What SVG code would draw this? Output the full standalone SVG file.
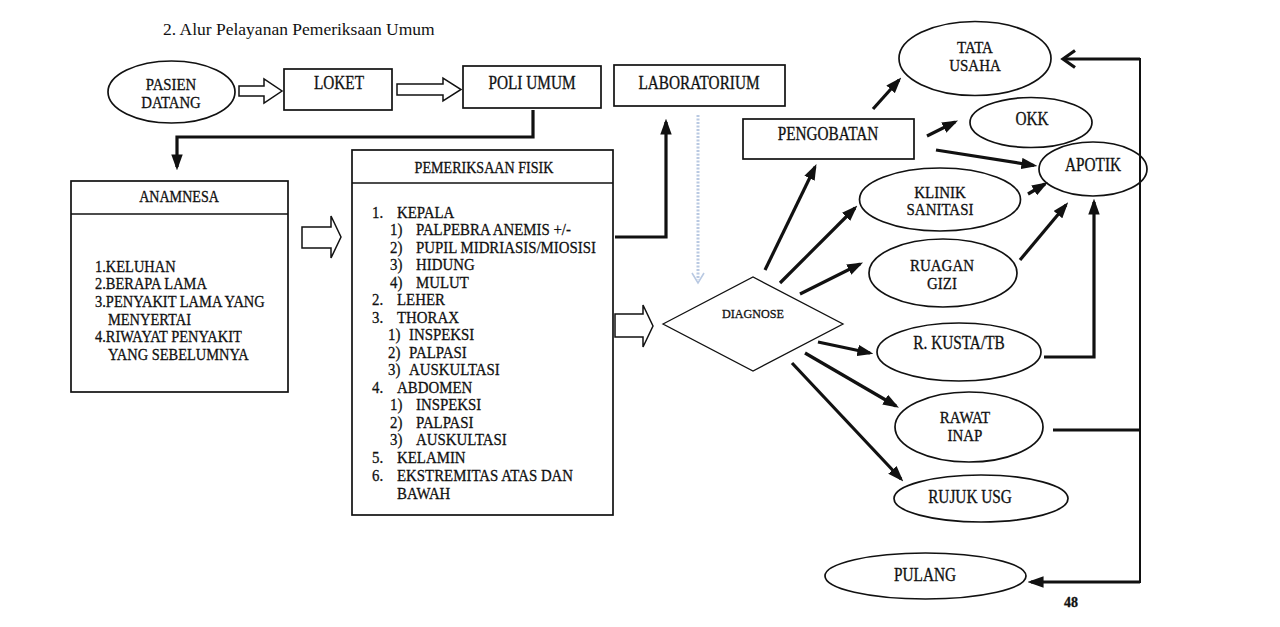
<svg xmlns="http://www.w3.org/2000/svg" width="1280" height="627" viewBox="0 0 1280 627">
<style>
  .bg{fill:#ffffff}
  .shape{fill:none;stroke:#111;stroke-width:1.7}
  .thin{fill:none;stroke:#111;stroke-width:1.3}
  .hollow{fill:#fff;stroke:#111;stroke-width:1.5;stroke-linejoin:miter}
  .conn{fill:none;stroke:#111;stroke-width:3.2}
  .vline{fill:none;stroke:#111;stroke-width:2}
  text{font-family:"Liberation Serif","Times New Roman",serif;fill:#111;stroke:#111;stroke-width:0.3}
  .lbl{font-size:18px;text-anchor:middle}
  .lbl2{font-size:17px;text-anchor:middle}
  .hdr{font-size:16px;text-anchor:middle}
  .list{font-size:17.5px}
  .alist{font-size:17px}
  .title{font-size:17.5px;stroke-width:0}
  .small{font-size:13.5px;text-anchor:middle}
</style>
<defs>
  <marker id="ah" markerUnits="userSpaceOnUse" markerWidth="16" markerHeight="12" viewBox="0 0 14 10" refX="11" refY="5" orient="auto">
    <path d="M0,0 L14,5 L0,10 Z" fill="#111"/>
  </marker>
</defs>
<rect class="bg" x="0" y="0" width="1280" height="627"/>

<text class="title" x="163" y="35">2.  Alur Pelayanan Pemeriksaan Umum</text>

<g id="pasien">
  <ellipse class="shape" cx="171.5" cy="92" rx="63.5" ry="31"/>
  <text class="lbl2" transform="translate(171,90) scale(0.87,1)"><tspan x="0">PASIEN</tspan><tspan x="0" dy="18">DATANG</tspan></text>
</g>
<g id="loket">
  <rect class="shape" x="284" y="69" width="108" height="41"/>
  <text class="lbl" transform="translate(339,89) scale(0.85,1)">LOKET</text>
</g>
<g id="poli">
  <rect class="shape" x="463" y="66" width="138" height="42"/>
  <text class="lbl" transform="translate(532,89) scale(0.85,1)">POLI UMUM</text>
</g>
<g id="lab">
  <rect class="shape" x="614" y="65" width="171" height="41"/>
  <text class="lbl" transform="translate(699,89) scale(0.85,1)">LABORATORIUM</text>
</g>

<g id="anamnesa">
  <rect class="shape" x="71" y="181" width="217" height="211"/>
  <line class="shape" x1="71" y1="214" x2="288" y2="214" stroke-width="2.2"/>
  <text class="hdr" transform="translate(179,202) scale(0.88,1)">ANAMNESA</text>
  <g transform="scale(0.85,1)">
    <text class="alist" x="111.8" y="272">1.KELUHAN</text>
    <text class="alist" x="111.8" y="289.5">2.BERAPA LAMA</text>
    <text class="alist" x="111.8" y="307">3.PENYAKIT LAMA YANG</text>
    <text class="alist" x="127" y="325">MENYERTAI</text>
    <text class="alist" x="111.8" y="342">4.RIWAYAT PENYAKIT</text>
    <text class="alist" x="127" y="360">YANG SEBELUMNYA</text>
  </g>
</g>

<g id="pemeriksaan">
  <rect class="shape" x="352" y="150" width="261" height="365"/>
  <line class="shape" x1="352" y1="183" x2="613" y2="183" stroke-width="2"/>
  <text class="hdr" transform="translate(484,173) scale(0.88,1)">PEMERIKSAAN FISIK</text>
  <g transform="scale(0.85,1)">
    <text class="list" x="437.6" y="218">1.<tspan x="467.1">KEPALA</tspan></text>
    <text class="list" x="458.8" y="235.5">1)<tspan x="489.4">PALPEBRA ANEMIS +/-</tspan></text>
    <text class="list" x="458.8" y="253">2)<tspan x="489.4">PUPIL MIDRIASIS/MIOSISI</tspan></text>
    <text class="list" x="458.8" y="270.5">3)<tspan x="489.4">HIDUNG</tspan></text>
    <text class="list" x="458.8" y="288">4)<tspan x="489.4">MULUT</tspan></text>
    <text class="list" x="437.6" y="305.5">2.<tspan x="467.1">LEHER</tspan></text>
    <text class="list" x="437.6" y="323">3.<tspan x="467.1">THORAX</tspan></text>
    <text class="list" x="456.5" y="340.5">1)<tspan x="481.2">INSPEKSI</tspan></text>
    <text class="list" x="456.5" y="358">2)<tspan x="481.2">PALPASI</tspan></text>
    <text class="list" x="456.5" y="375.5">3)<tspan x="481.2">AUSKULTASI</tspan></text>
    <text class="list" x="437.6" y="393">4.<tspan x="467.1">ABDOMEN</tspan></text>
    <text class="list" x="458.8" y="410.5">1)<tspan x="489.4">INSPEKSI</tspan></text>
    <text class="list" x="458.8" y="428">2)<tspan x="489.4">PALPASI</tspan></text>
    <text class="list" x="458.8" y="445">3)<tspan x="489.4">AUSKULTASI</tspan></text>
    <text class="list" x="437.6" y="463">5.<tspan x="467.1">KELAMIN</tspan></text>
    <text class="list" x="437.6" y="481">6.<tspan x="467.1">EKSTREMITAS ATAS DAN</tspan></text>
    <text class="list" x="467.1" y="499">BAWAH</text>
  </g>
</g>

<g id="diagnose">
  <polygon class="thin" points="663,324 753,277 843,324 753,371"/>
  <text class="small" transform="translate(753,318) scale(0.9,1)">DIAGNOSE</text>
</g>
<g id="pengobatan">
  <rect class="shape" x="743" y="119" width="171" height="40"/>
  <text class="lbl" transform="translate(828,140) scale(0.85,1)">PENGOBATAN</text>
</g>
<g id="tatausaha">
  <ellipse class="shape" cx="975" cy="58.5" rx="76" ry="37"/>
  <text class="lbl2" transform="translate(975,53) scale(0.88,1)"><tspan x="0">TATA</tspan><tspan x="0" dy="18">USAHA</tspan></text>
</g>
<g id="okk">
  <ellipse class="shape" cx="1031" cy="122.5" rx="61" ry="25"/>
  <text class="lbl" transform="translate(1032,125) scale(0.85,1)">OKK</text>
</g>
<g id="apotik">
  <ellipse class="shape" cx="1093" cy="169" rx="54" ry="27"/>
  <text class="lbl" transform="translate(1093,171) scale(0.85,1)">APOTIK</text>
</g>
<g id="klinik">
  <ellipse class="shape" cx="940" cy="199.5" rx="80.5" ry="31.5"/>
  <text class="lbl2" transform="translate(940,197.5) scale(0.88,1)"><tspan x="0">KLINIK</tspan><tspan x="0" dy="18">SANITASI</tspan></text>
</g>
<g id="ruagan">
  <ellipse class="shape" cx="943" cy="273" rx="74" ry="34"/>
  <text class="lbl2" transform="translate(942,271) scale(0.88,1)"><tspan x="0">RUAGAN</tspan><tspan x="0" dy="18">GIZI</tspan></text>
</g>
<g id="kusta">
  <ellipse class="shape" cx="959" cy="352" rx="82" ry="29"/>
  <text class="lbl" transform="translate(959,349) scale(0.85,1)">R. KUSTA/TB</text>
</g>
<g id="rawatinap">
  <ellipse class="shape" cx="969" cy="427" rx="74" ry="35"/>
  <text class="lbl2" transform="translate(965,423) scale(0.88,1)"><tspan x="0">RAWAT</tspan><tspan x="0" dy="18">INAP</tspan></text>
</g>
<g id="rujuk">
  <ellipse class="shape" cx="981" cy="498.5" rx="87" ry="23.5"/>
  <text class="lbl" transform="translate(970,503) scale(0.85,1)">RUJUK USG</text>
</g>
<g id="pulang">
  <ellipse class="shape" cx="925.5" cy="576" rx="100.5" ry="23"/>
  <text class="lbl" transform="translate(925,581) scale(0.85,1)">PULANG</text>
</g>

<text x="1071" y="607" font-size="14" text-anchor="middle" font-weight="bold">48</text>

<g id="connectors">
  <path class="hollow" d="M239,86 H264 V79 L282,91 L264,103 V96 H239 Z"/>
  <path class="hollow" d="M397,84 H443 V78 L461,89.5 L443,101 V95 H397 Z"/>
  <path class="hollow" d="M302,227 H331 V216 L341,237 L331,258 V248 H302 Z"/>
  <path class="hollow" d="M615,314 H643 V305 L653,326 L643,347 V337 H615 Z"/>

  <path class="conn" d="M533,110 V137 H177 V167" marker-end="url(#ah)"/>
  <path class="conn" d="M615,237 H666 V122" marker-end="url(#ah)"/>

  <path d="M698,115 V280" fill="none" stroke="#b9c9e2" stroke-width="3" stroke-dasharray="2 1.5"/>
  <path d="M692,273 L698,283 L704,273" fill="none" stroke="#b9c9e2" stroke-width="1.6"/>

  <line class="conn" x1="765" y1="270" x2="815" y2="167" marker-end="url(#ah)"/>
  <line class="conn" x1="780" y1="283" x2="855" y2="208" marker-end="url(#ah)"/>
  <line class="conn" x1="800" y1="294" x2="860" y2="264" marker-end="url(#ah)"/>
  <line class="conn" x1="818" y1="342" x2="870" y2="353" marker-end="url(#ah)"/>
  <line class="conn" x1="805" y1="353" x2="896" y2="406" marker-end="url(#ah)"/>
  <line class="conn" x1="792" y1="363" x2="901" y2="479" marker-end="url(#ah)"/>

  <line class="conn" x1="873" y1="109" x2="899" y2="80" marker-end="url(#ah)"/>
  <line class="conn" x1="927" y1="136" x2="955" y2="122" marker-end="url(#ah)"/>
  <line class="conn" x1="936" y1="150" x2="1034" y2="165.5" marker-end="url(#ah)"/>
  <line class="conn" x1="1028" y1="194" x2="1045" y2="184" marker-end="url(#ah)"/>
  <line class="conn" x1="1020" y1="260" x2="1066" y2="205" marker-end="url(#ah)"/>
  <path class="conn" d="M1044,357 H1094 V202" marker-end="url(#ah)"/>

  <path class="conn" d="M1053,430 H1140"/>
  <path class="vline" d="M1140,58 V583"/>
  <path class="conn" d="M1140,59 H1064"/>
  <polyline class="conn" points="1075,50.5 1063,59 1075,67.5"/>
  <path class="conn" d="M1140,582 H1031" marker-end="url(#ah)"/>
</g>
</svg>
